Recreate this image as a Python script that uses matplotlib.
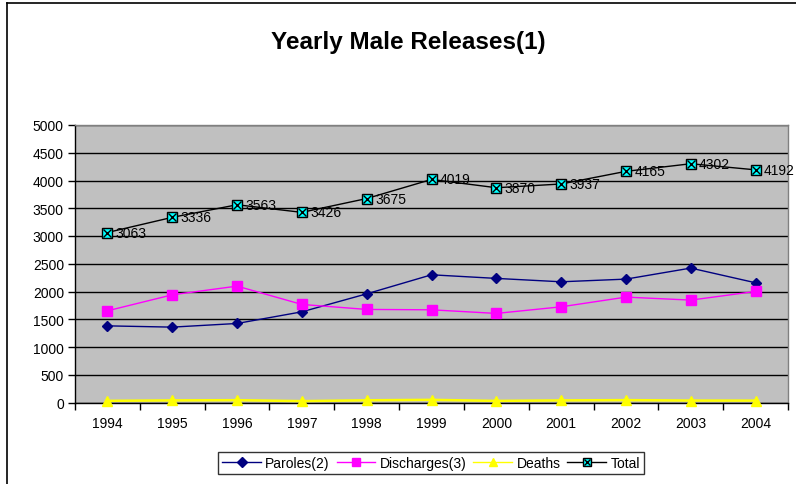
import matplotlib
matplotlib.use("Agg")
import matplotlib.pyplot as plt
from matplotlib.lines import Line2D

years = ["1994", "1995", "1996", "1997", "1998", "1999", "2000", "2001", "2002", "2003", "2004"]
paroles = [1381, 1358, 1424, 1634, 1958, 2301, 2236, 2175, 2223, 2422, 2157]
discharges = [1652, 1940, 2097, 1767, 1677, 1670, 1605, 1724, 1899, 1845, 2001]
deaths = [30, 38, 42, 25, 40, 48, 29, 38, 43, 35, 34]
total = [3063, 3336, 3563, 3426, 3675, 4019, 3870, 3937, 4165, 4302, 4192]
yticks = [0, 500, 1000, 1500, 2000, 2500, 3000, 3500, 4000, 4500, 5000]

plt.rcParams['font.family'] = ['Liberation Sans', 'DejaVu Sans']

fig = plt.figure(figsize=(7.96, 4.85), dpi=100)
ax = fig.add_axes([75/796, 1-403.5/485, (788-75)/796, (403.5-126)/485])
ax.set_facecolor('#C0C0C0')

x = list(range(len(years)))
ax.plot(x, paroles, color='#000080', marker='D', markersize=5, linewidth=1, zorder=3)
ax.plot(x, discharges, color='#FF00FF', marker='s', markersize=6.5, linewidth=1, zorder=3)
ax.plot(x, deaths, color='#FFFF00', marker='^', markersize=7, linewidth=1.8, zorder=3,
        clip_on=False)
ax.plot(x, total, color='black', marker='s', markersize=7, markerfacecolor='#00FFFF',
        markeredgecolor='black', markeredgewidth=1, linewidth=1, zorder=3)
ax.plot(x, total, linestyle='none', marker='x', markersize=6, markeredgecolor='black',
        markeredgewidth=1, zorder=4)

for xi, v in zip(x, total):
    ax.annotate(str(v), (xi, v), xytext=(6, 0), textcoords='offset points',
                va='center', ha='left', fontsize=10, color='black', zorder=5,
                annotation_clip=False)

ax.set_xlim(-0.5, len(years) - 0.5)
ax.set_ylim(0, 5000)
ax.set_yticks(yticks)
ax.set_yticklabels([str(t) for t in yticks], fontsize=10)
ax.set_xticks(x)
ax.set_xticklabels(years, fontsize=10)
ax.set_xticks([i - 0.5 for i in range(len(years) + 1)], minor=True)
ax.tick_params(axis='x', which='major', length=0, pad=10)
ax.tick_params(axis='x', which='minor', length=5, direction='out', width=1)
ax.tick_params(axis='y', length=5, direction='out', width=1, pad=3)
ax.yaxis.grid(True, color='black', linewidth=1)
ax.set_axisbelow(True)

ax.spines['left'].set_color('black')
ax.spines['bottom'].set_color('black')
ax.spines['top'].set_color('#808080')
ax.spines['right'].set_color('#808080')
for s in ax.spines.values():
    s.set_linewidth(1)

fig.text(408/796, 1-43/485, "Yearly Male Releases(1)", ha='center', va='center',
         fontsize=17.5, fontweight='bold')

total_sq = Line2D([], [], color='black', marker='s', markersize=6, markerfacecolor='#00FFFF',
                  markeredgecolor='black', linewidth=1)
total_x = Line2D([], [], linestyle='none', marker='x', markersize=5, markeredgecolor='black',
                 markeredgewidth=1)
handles = [
    Line2D([], [], color='#000080', marker='D', markersize=5, linewidth=1),
    Line2D([], [], color='#FF00FF', marker='s', markersize=6, linewidth=1),
    Line2D([], [], color='#FFFF00', marker='^', markersize=6, linewidth=1),
    (total_sq, total_x),
]
labels = ["Paroles(2)", "Discharges(3)", "Deaths", "Total"]
leg = fig.legend(handles, labels, loc='center', bbox_to_anchor=(431/796, 1-464/485),
                 ncol=4, fontsize=10, frameon=True, fancybox=False, handlelength=2.8,
                 handletextpad=0.3, columnspacing=0.5, borderpad=0.3, borderaxespad=0)
leg.get_frame().set_edgecolor('black')
leg.get_frame().set_linewidth(1)

fig.add_artist(Line2D([7/796, 7/796], [0, 1-4/485], transform=fig.transFigure,
                      color='black', linewidth=1.2))
fig.add_artist(Line2D([7/796, 1], [1-4/485, 1-4/485], transform=fig.transFigure,
                      color='black', linewidth=1.2))

fig.savefig("out.png", dpi=100)
